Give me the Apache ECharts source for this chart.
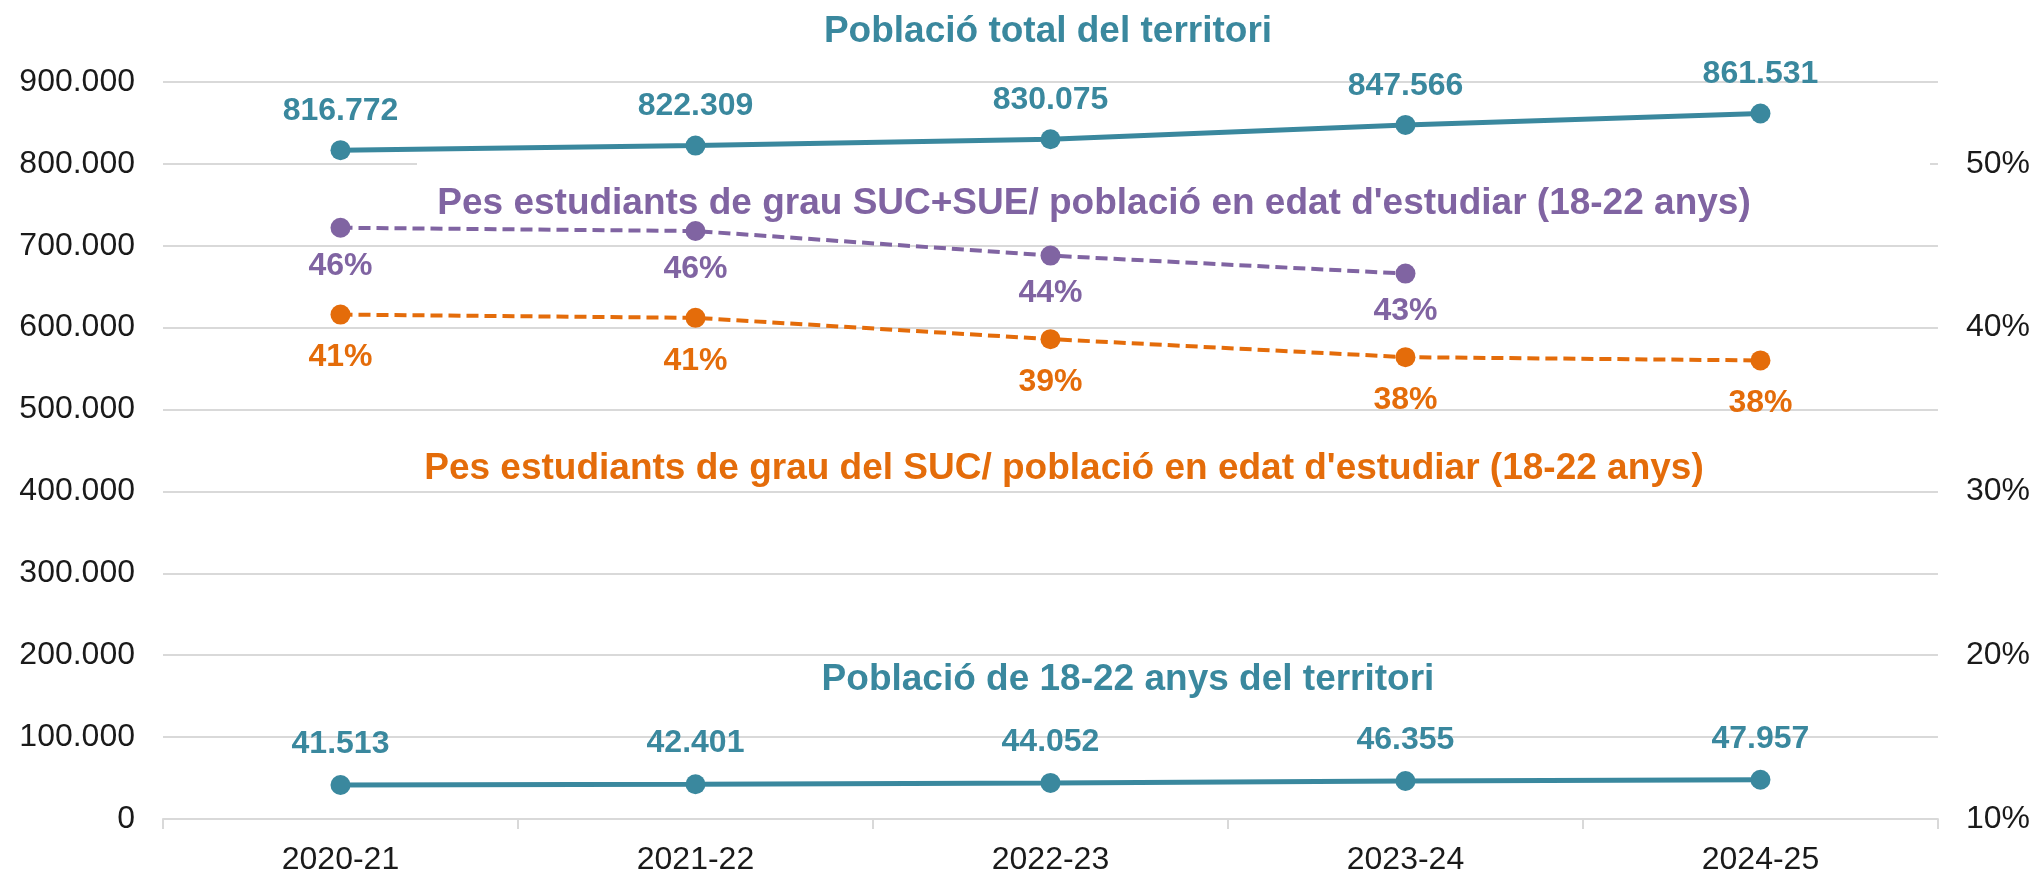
<!DOCTYPE html>
<html>
<head>
<meta charset="utf-8">
<script src="https://cdn.jsdelivr.net/npm/echarts@6/dist/echarts.min.js"></script>
<style>html,body{margin:0;padding:0;background:#fff}#c{width:2033px;height:876px}</style>
</head>
<body>
<div id="c"></div>
<script>
const categories = ['2020-21', '2021-22', '2022-23', '2023-24', '2024-25'];
const poblacioTotal = [816772, 822309, 830075, 847566, 861531];
const poblacio1822 = [41513, 42401, 44052, 46355, 47957];
const pesSucSue = [0.461, 0.459, 0.444, 0.433, null];
const pesSuc = [0.408, 0.406, 0.393, 0.382, 0.380];
const leftTicks = { min: 0, max: 900000, interval: 100000 };
const rightTicks = { min: 0.1, max: 0.55, interval: 0.1 };
const labelTotal = 'Població total del territori';
const labelSucSue = "Pes estudiants de grau SUC+SUE/ població en edat d'estudiar (18-22 anys)";
const labelSuc = "Pes estudiants de grau del SUC/ població en edat d'estudiar (18-22 anys)";
const label1822 = 'Població de 18-22 anys del territori';

const TEAL = '#3a889e', PURPLE = '#8064a2', ORANGE = '#e46c0a';
const FONT = '"Liberation Sans", Arial, sans-serif';
const fmtThousands = v => String(Math.round(v)).replace(/\B(?=(\d{3})+(?!\d))/g, '.');
const fmtPct = v => Math.round(v * 100) + '%';

const chart = echarts.init(document.getElementById('c'));
const dataLabel = (color, pos, dist, fmt) => ({
  show: true, position: pos, distance: dist, color: color,
  fontFamily: FONT, fontSize: 32, fontWeight: 'bold',
  formatter: p => fmt(p.value)
});
chart.setOption({
  animation: false,
  textStyle: { fontFamily: FONT },
  grid: { left: 163, right: 94, top: 82, bottom: 52 },
  xAxis: {
    type: 'category', data: categories, boundaryGap: true,
    axisLine: { lineStyle: { color: '#d9d9d9', width: 2 } },
    axisTick: { show: true, length: 10, lineStyle: { color: '#d9d9d9', width: 2 } },
    axisLabel: { color: '#1a1a1a', fontSize: 32, fontFamily: FONT, margin: 25 }
  },
  yAxis: [{
    type: 'value', min: leftTicks.min, max: leftTicks.max, interval: leftTicks.interval,
    axisLine: { show: false }, axisTick: { show: false },
    splitLine: { lineStyle: { color: '#d9d9d9', width: 2 } },
    axisLabel: { color: '#1a1a1a', fontSize: 32, fontFamily: FONT, margin: 28, formatter: fmtThousands }
  }, {
    type: 'value', min: rightTicks.min, max: rightTicks.max, interval: rightTicks.interval,
    position: 'right',
    axisLine: { show: false }, axisTick: { show: false }, splitLine: { show: false },
    axisLabel: { color: '#1a1a1a', fontSize: 32, fontFamily: FONT, margin: 28, formatter: fmtPct, showMaxLabel: false }
  }],
  graphic: [
    { type: 'rect', z: 1, shape: { x: 417, y: 156, width: 1513, height: 18 }, style: { fill: '#ffffff' } },
    { type: 'text', z: 5, x: 1048, y: 32, style: { text: labelTotal, fill: TEAL, font: 'bold 37px ' + FONT, textAlign: 'center', textVerticalAlign: 'middle' } },
    { type: 'text', z: 5, x: 1094, y: 204, style: { text: labelSucSue, fill: PURPLE, font: 'bold 37px ' + FONT, textAlign: 'center', textVerticalAlign: 'middle' } },
    { type: 'text', z: 5, x: 1064, y: 469, style: { text: labelSuc, fill: ORANGE, font: 'bold 37px ' + FONT, textAlign: 'center', textVerticalAlign: 'middle' } },
    { type: 'text', z: 5, x: 1128, y: 680, style: { text: label1822, fill: TEAL, font: 'bold 37px ' + FONT, textAlign: 'center', textVerticalAlign: 'middle' } }
  ],
  series: [{
    name: labelTotal, type: 'line', yAxisIndex: 0, data: poblacioTotal,
    symbol: 'circle', symbolSize: 20, z: 3,
    lineStyle: { color: TEAL, width: 5 }, itemStyle: { color: TEAL },
    label: dataLabel(TEAL, 'top', 13, fmtThousands)
  }, {
    name: label1822, type: 'line', yAxisIndex: 0, data: poblacio1822,
    symbol: 'circle', symbolSize: 20, z: 3,
    lineStyle: { color: TEAL, width: 5 }, itemStyle: { color: TEAL },
    label: dataLabel(TEAL, 'top', 15, fmtThousands)
  }, {
    name: labelSucSue, type: 'line', yAxisIndex: 1, data: pesSucSue,
    symbol: 'circle', symbolSize: 20, z: 3,
    lineStyle: { color: PURPLE, width: 4, type: [12, 6] }, itemStyle: { color: PURPLE },
    label: dataLabel(PURPLE, 'bottom', 12, fmtPct)
  }, {
    name: labelSuc, type: 'line', yAxisIndex: 1, data: pesSuc,
    symbol: 'circle', symbolSize: 20, z: 3,
    lineStyle: { color: ORANGE, width: 4, type: [12, 6] }, itemStyle: { color: ORANGE },
    label: dataLabel(ORANGE, 'bottom', 17, fmtPct)
  }]
});
</script>
</body>
</html>
